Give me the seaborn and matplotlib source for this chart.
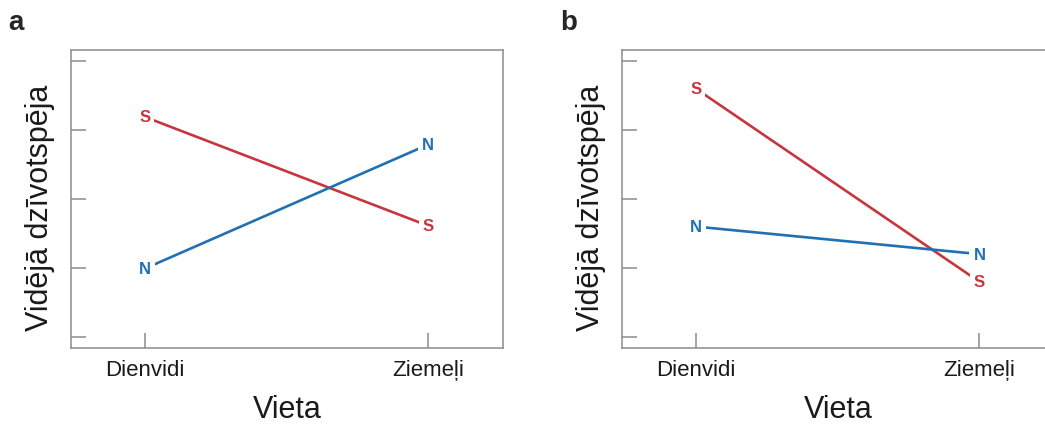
import matplotlib
matplotlib.use("Agg")
import matplotlib.pyplot as plt
import seaborn as sns
import pandas as pd

sites = ["Dienvidi", "Ziemeļi"]
groups = ["S", "N"]
a_S = [3.19, 1.61]
a_N = [0.99, 2.79]
b_S = [3.60, 0.80]
b_N = [1.60, 1.20]
panel_labels = ["a", "b"]
x_label = "Vieta"
y_label = "Vidējā dzīvotspēja"
y_ticks = [0, 1, 2, 3, 4]

colors = {"S": "#c8363d", "N": "#2070b4"}

sns.set_theme(style="ticks")
plt.rcParams["font.family"] = ["Liberation Sans", "DejaVu Sans"]

fig = plt.figure(figsize=(10.45, 4.27), dpi=100)
axes = [fig.add_axes([0.0679, 0.1827, 0.4134, 0.698]),
        fig.add_axes([0.5952, 0.1827, 0.4134, 0.698])]

panels = [(a_S, a_N), (b_S, b_N)]
spine_c = "#8c8c8c"
for ax, (sv, nv), lab in zip(axes, panels, panel_labels):
    df = pd.DataFrame({
        "Vieta": sites * 2,
        "val": list(sv) + list(nv),
        "grp": ["S"] * 2 + ["N"] * 2,
    })
    sns.lineplot(data=df, x="Vieta", y="val", hue="grp", palette=colors,
                 legend=False, ax=ax, linewidth=1.9, sort=False)
    for g, vals in (("S", sv), ("N", nv)):
        for i, v in enumerate(vals):
            ax.text(i, v, g, color=colors[g], fontsize=12, fontweight="bold",
                    ha="center", va="center", zorder=5,
                    bbox=dict(facecolor="white", edgecolor="none", pad=3))
    ax.set_xlim(-0.26, 1.263)
    ax.set_ylim(-0.16, 4.16)
    ax.set_yticks(y_ticks)
    ax.set_yticklabels([])
    ax.set_xticks([0, 1])
    ax.set_xticklabels(sites, fontsize=16, color="#1a1a1a")
    ax.tick_params(direction="in", length=11, width=1.1, color=spine_c, pad=8)
    for sp in ax.spines.values():
        sp.set_visible(True)
        sp.set_color(spine_c)
        sp.set_linewidth(1.1)
    ax.set_xlabel(x_label, fontsize=22, labelpad=10, color="#1a1a1a")
    ax.set_ylabel(y_label, fontsize=22, color="#1a1a1a")
    ax.yaxis.set_label_coords(-0.036, 0.473)
    ax.set_facecolor("white")

fig.text(8 / 1045, 1 - 23 / 427, panel_labels[0], fontsize=20, fontweight="bold", va="center", ha="left")
fig.text(560 / 1045, 1 - 23 / 427, panel_labels[1], fontsize=20, fontweight="bold", va="center", ha="left")

fig.savefig("out.png", dpi=100)
